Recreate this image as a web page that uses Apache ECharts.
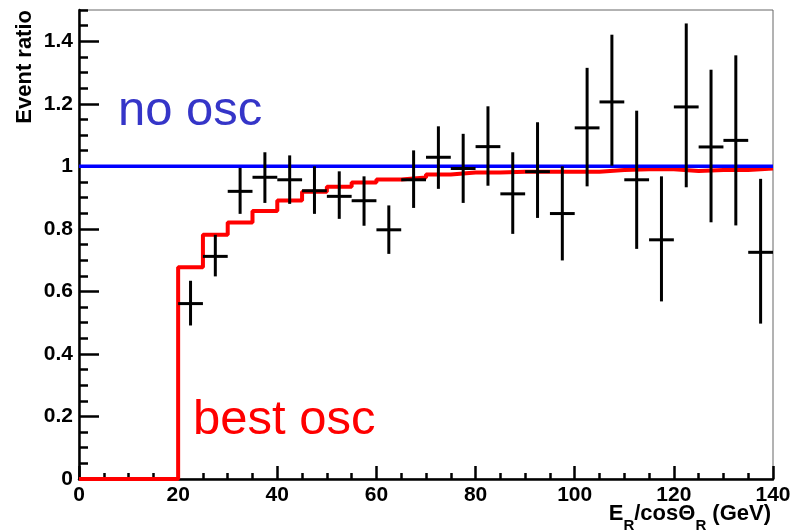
<!DOCTYPE html>
<html>
<head>
<meta charset="utf-8">
<script src="https://cdn.jsdelivr.net/npm/echarts@6/dist/echarts.min.js"></script>
<style>html,body{margin:0;padding:0;background:#fff}#c{width:791px;height:531px}</style>
</head>
<body>
<div id="c"></div>
<script>
// ---- data ----
const histEdges = [0,5,10,15,20,25,30,35,40,45,50,55,60,65,70,75,80,85,90,95,100,105,110,115,120,125,130,135,140];
const bestOscValues = [0,0,0,0,0.677,0.781,0.820,0.857,0.891,0.919,0.935,0.948,0.958,0.964,0.974,0.980,0.980,0.983,0.983,0.983,0.983,0.988,0.991,0.991,0.985,0.988,0.988,0.993];
const noOscX = [0, 140];
const noOscY = [1, 1];
const pointX = [22.5,27.5,32.5,37.5,42.5,47.5,52.5,57.5,62.5,67.5,72.5,77.5,82.5,87.5,92.5,97.5,102.5,107.5,112.5,117.5,122.5,127.5,132.5,137.5];
const pointY = [0.561,0.712,0.920,0.965,0.957,0.922,0.904,0.890,0.797,0.957,1.029,0.993,1.063,0.912,0.983,0.849,1.123,1.206,0.957,0.765,1.190,1.062,1.083,0.725];
const pointHigh = [0.634,0.781,0.995,1.045,1.035,1.000,0.984,0.968,0.875,1.051,1.128,1.104,1.192,1.045,1.141,1.000,1.315,1.421,1.178,0.968,1.457,1.309,1.355,0.960];
const pointLow = [0.491,0.648,0.848,0.883,0.880,0.848,0.832,0.810,0.720,0.867,0.928,0.883,0.938,0.784,0.835,0.699,0.936,1.002,0.736,0.568,0.933,0.821,0.811,0.497];
const binHalfWidth = 2.5;
const yTickValues = [0,0.2,0.4,0.6,0.8,1.0,1.2,1.4];

// ---- build ----
const histData = bestOscValues.map((v, i) => [histEdges[i], v]);
histData.push([histEdges[histEdges.length - 1], bestOscValues[bestOscValues.length - 1]]);
const noOscData = noOscX.map((x, i) => [x, noOscY[i]]);
const pointData = pointX.map((x, i) => [x, pointY[i], pointLow[i], pointHigh[i]]);

const FONT = '"Liberation Sans", Arial, Helvetica, sans-serif';
const chart = echarts.init(document.getElementById('c'), null, {renderer: 'canvas'});
chart.setOption({
  animation: false,
  backgroundColor: '#ffffff',
  grid: {left: 79, right: 18, top: 10, bottom: 52, containLabel: false, outerBoundsMode: 'none',
         show: true, borderColor: '#666', borderWidth: 1, backgroundColor: 'transparent'},
  xAxis: {
    type: 'value', min: 0, max: 140, interval: 20,
    axisLine: {show: true, onZero: false, lineStyle: {color: '#000', width: 2.5}},
    axisTick: {show: true, inside: true, length: 13, lineStyle: {color: '#000', width: 2.5}},
    minorTick: {show: true, splitNumber: 4, length: 6, lineStyle: {color: '#000', width: 2.5}},
    axisLabel: {show: true, margin: 6, color: '#000', fontSize: 21, fontWeight: 'bold', fontFamily: FONT},
    splitLine: {show: false}, minorSplitLine: {show: false}
  },
  yAxis: [{
    type: 'value', min: 0, max: 1.5, interval: 0.2,
    axisLine: {show: true, onZero: false, lineStyle: {color: '#000', width: 2.5}},
    axisTick: {show: true, inside: true, length: 20, customValues: yTickValues, lineStyle: {color: '#000', width: 2.5}},
    axisLabel: {show: true, margin: 6, color: '#000', fontSize: 21, fontWeight: 'bold', fontFamily: FONT,
                customValues: yTickValues},
    splitLine: {show: false}
  }, {
    type: 'value', min: 0, max: 1.5, interval: 0.05, position: 'left',
    axisLine: {show: false},
    axisTick: {show: true, inside: true, length: 9, lineStyle: {color: '#000', width: 2.5}},
    axisLabel: {show: false},
    splitLine: {show: false}
  }],
  series: [{
    name: 'best osc', type: 'line', step: 'end', data: histData, symbol: 'none', clip: false, z: 3,
    lineStyle: {color: '#ff0000', width: 4}
  }, {
    name: 'no osc', type: 'line', data: noOscData, symbol: 'none', clip: false, z: 4,
    lineStyle: {color: '#0000ff', width: 3.5}
  }, {
    name: 'data', type: 'custom', data: pointData, z: 5, clip: false,
    renderItem: function (params, api) {
      const x = api.value(0), y = api.value(1), lo = api.value(2), hi = api.value(3);
      const pTop = api.coord([x, hi]);
      const pBot = api.coord([x, lo]);
      const pL = api.coord([x - binHalfWidth, y]);
      const pR = api.coord([x + binHalfWidth, y]);
      const st = {stroke: '#000', lineWidth: 3};
      return {type: 'group', children: [
        {type: 'line', shape: {x1: pTop[0], y1: pTop[1], x2: pBot[0], y2: pBot[1]}, style: st},
        {type: 'line', shape: {x1: pL[0], y1: pL[1], x2: pR[0], y2: pR[1]}, style: st}
      ]};
    }
  }],
  graphic: [{
    type: 'text', x: 118, y: 111, z: 10,
    style: {text: 'no osc', fill: '#3535c8', font: '49px ' + FONT, textAlign: 'left', textVerticalAlign: 'middle'}
  }, {
    type: 'text', x: 193, y: 420, z: 10,
    style: {text: 'best osc', fill: '#ff0000', font: '49px ' + FONT, textAlign: 'left', textVerticalAlign: 'middle'}
  }, {
    type: 'text', x: 24.5, y: 10, rotation: Math.PI / 2, z: 10,
    style: {text: 'Event ratio', fill: '#000', font: 'bold 22px ' + FONT, textAlign: 'right', textVerticalAlign: 'middle'}
  }, {
    type: 'text', x: 771, y: 503, z: 10,
    style: {
      text: '{m|E}{s|R}{m|/cos\u0398}{s|R}{m| (GeV)}',
      textAlign: 'right', textVerticalAlign: 'top', fill: '#000',
      rich: {
        m: {fontSize: 22, fontWeight: 'bold', fontFamily: FONT, lineHeight: 22, verticalAlign: 'top', fill: '#000'},
        s: {fontSize: 15, fontWeight: 'bold', fontFamily: FONT, lineHeight: 15, verticalAlign: 'top', padding: [15.5, 0, 0, 0], fill: '#000'}
      }
    }
  }]
});
</script>
</body>
</html>
